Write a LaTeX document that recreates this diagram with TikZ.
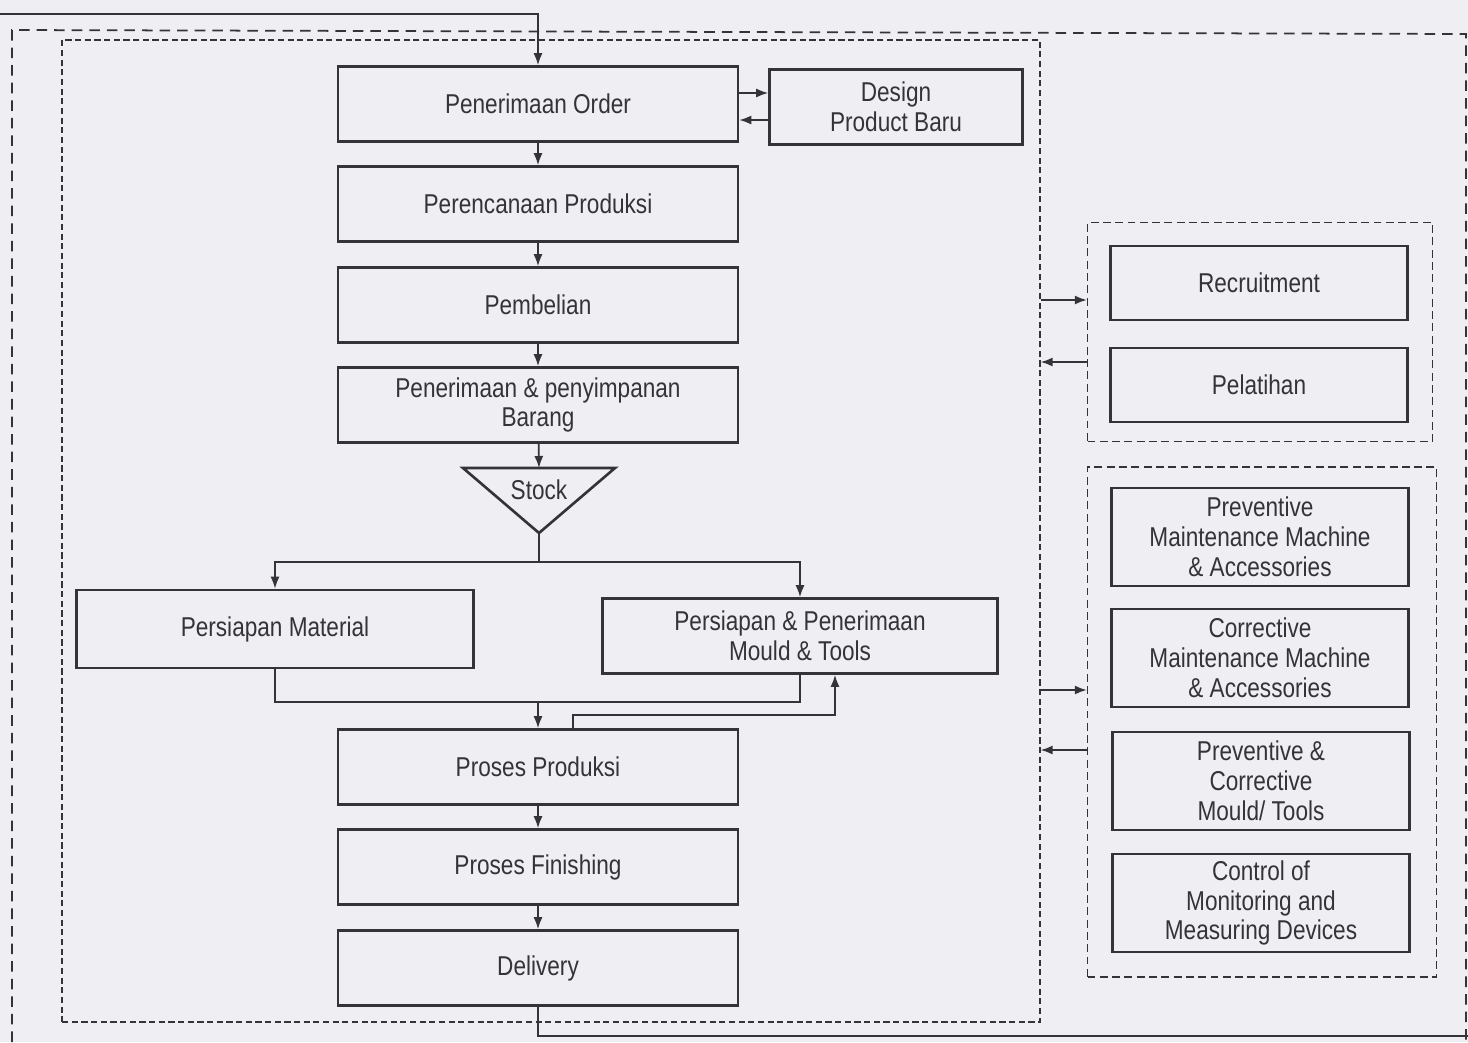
\documentclass[tikz,border=0pt]{standalone}
\usepackage{fontspec}
\setmainfont{Liberation Sans}[FakeStretch=0.83]
\usetikzlibrary{arrows.meta}

\definecolor{paper}{RGB}{238,238,243}
\definecolor{ink}{RGB}{52,52,56}

\tikzset{
  box/.style={draw=ink, line width=1.5pt, fill=paper, text=ink, align=center,
    minimum width=8cm, minimum height=1.5cm, inner sep=2pt,
    font=\fontsize{15.5}{17}\selectfont},
  sidebox/.style={box, minimum width=5.94cm, minimum height=1.48cm},
  tallbox/.style={sidebox, minimum height=1.96cm},
  grpbox/.style={draw=ink, line width=0.8pt, dash pattern=on 4.5pt off 2.5pt, inner sep=0pt},
  flow/.style={draw=ink, line width=1pt, -{Latex[length=2.4mm,width=1.8mm]}},
  link/.style={draw=ink, line width=1pt},
}

\begin{document}
\begin{tikzpicture}[x=0.02cm, y=-0.02cm]
    % Kertas
    \fill[paper] (0,0) rectangle (1468,1042);
    \useasboundingbox (0,0) rectangle (1468,1042);

    % Batas luar dan dalam
    \draw[ink, line width=1pt, dash pattern=on 6pt off 4pt] (12,1042) -- (12,30) -- (1466,34) -- (1466,1042);
    \node[draw=ink, line width=0.8pt, dash pattern=on 3.5pt off 2pt, inner sep=0pt,
          minimum width=19.56cm, minimum height=19.64cm] (inner) at (551,531) {};

    % --- ALUR UTAMA ---
    \node[box] (order) at (538,104) {Penerimaan Order};
    \node[box, minimum width=5.06cm] (design) at (896,107) {Design\\Product Baru};
    \node[box] (plan) at (538,204) {Perencanaan Produksi};
    \node[box] (buy) at (538,305) {Pembelian};
    \node[box] (store) at (538,405) {Penerimaan \& penyimpanan\\Barang};

    % Stock
    \draw[ink, line width=1.5pt, fill=paper] (463,468) -- (615,468) -- (539,533) -- cycle;
    \node[text=ink, font=\fontsize{15.5}{17}\selectfont] (stock) at (539,490) {Stock};
    \coordinate (stocktop) at (539,468);
    \coordinate (stockbot) at (539,533);

    \node[box, minimum width=7.94cm, minimum height=1.56cm] (material) at (275,629) {Persiapan Material};
    \node[box, minimum width=7.9cm] (mould) at (800,636) {Persiapan \& Penerimaan\\Mould \& Tools};
    \node[box] (prod) at (538,767) {Proses Produksi};
    \node[box] (finish) at (538,867) {Proses Finishing};
    \node[box] (deliv) at (538,968) {Delivery};

    % --- PENDUKUNG ---
    \node[grpbox, minimum width=6.9cm, minimum height=4.38cm] (hrd) at (1260,332) {};
    \node[sidebox] (recruit) at (1259,283) {Recruitment};
    \node[sidebox] (train) at (1259,385) {Pelatihan};

    \node[grpbox, minimum width=6.98cm, minimum height=10.2cm] (maint) at (1262,722) {};
    \node[tallbox] (pmm) at (1260,537) {Preventive\\Maintenance Machine\\\& Accessories};
    \node[tallbox] (cmm) at (1260,658) {Corrective\\Maintenance Machine\\\& Accessories};
    \node[tallbox] (pcm) at (1261,781) {Preventive \&\\Corrective\\Mould/ Tools};
    \node[tallbox] (cmd) at (1261,903) {Control of\\Monitoring and\\Measuring Devices};

    % --- PANAH ---
    \coordinate (feed) at (0,14);
    \coordinate (exit) at (1468,1036);
    \draw[flow] (feed) -| (order.north);
    \draw[flow] (order.east |- 0,93) -- (design.west |- 0,93);
    \draw[flow] (design.west |- 0,120) -- (order.east |- 0,120);
    \draw[flow] (order) -- (plan);
    \draw[flow] (plan) -- (buy);
    \draw[flow] (buy) -- (store);
    \draw[flow] (store) -- (stocktop);

    % Percabangan dari stock
    \draw[link] (stockbot) -- (539,562) coordinate (split);
    \draw[flow] (split) -| (material.north);
    \draw[flow] (split) -| (mould.north);

    % Gabungan ke produksi
    \draw[link] (material.south) |- (mould.south |- 0,702) -- (mould.south);
    \draw[flow] (prod.north |- 0,702) -- (prod.north);
    \draw[flow] ([xshift=0.7cm]prod.north) -- ++(0,-13) -| ([xshift=0.7cm]mould.south);

    \draw[flow] (prod) -- (finish);
    \draw[flow] (finish) -- (deliv);
    \draw[link] (deliv.south) |- (exit);

    % Hubungan dengan pendukung
    \draw[flow] (inner.east |- 0,300) -- (hrd.west |- 0,300);
    \draw[flow] (hrd.west |- 0,362) -- (inner.east |- 0,362);
    \draw[flow] (inner.east |- 0,690) -- (maint.west |- 0,690);
    \draw[flow] (maint.west |- 0,750) -- (inner.east |- 0,750);
\end{tikzpicture}
\end{document}
